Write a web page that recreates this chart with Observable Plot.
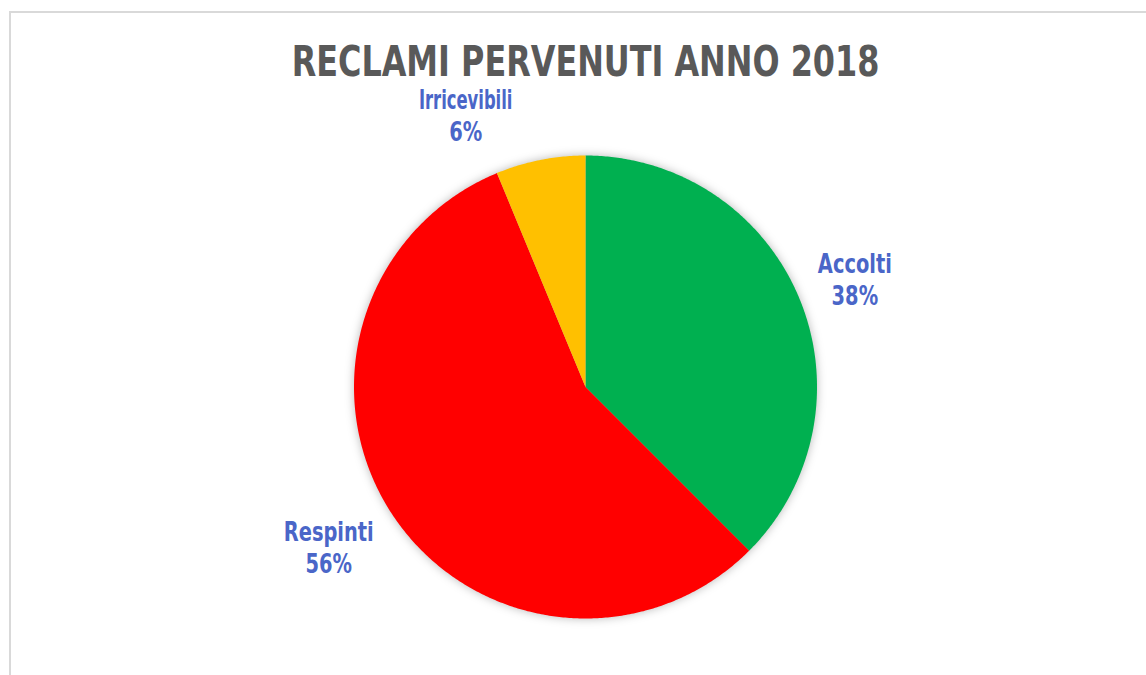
<!DOCTYPE html>
<html>
<head>
<meta charset="utf-8">
<script src="https://cdn.jsdelivr.net/npm/d3@7"></script>
<script src="https://cdn.jsdelivr.net/npm/@observablehq/plot@0.6"></script>
<style>
  html, body { margin: 0; padding: 0; background: #fff; overflow: hidden; }
  #frame { position: absolute; left: 9px; top: 11px; width: 1200px; height: 720px; border: 2px solid #d9d9d9; box-sizing: border-box; }
  #chart { position: absolute; left: 0; top: 0; }
  #chart g[aria-label="line"] { filter: drop-shadow(0px 0px 5px rgba(0,0,0,0.28)); }
</style>
</head>
<body>
<div id="frame"></div>
<div id="chart"></div>
<script>
// ---- data ----
const title = "RECLAMI PERVENUTI ANNO 2018";
const categories = ["Accolti", "Respinti", "Irricevibili"];
const counts = [6, 9, 1];
const colors = ["#00B050", "#FF0000", "#FFC000"];

// ---- derived geometry (from data) ----
const total = d3.sum(counts);
let acc = 0;
const slices = categories.map((name, i) => {
  const a0 = acc / total * 360;
  acc += counts[i];
  const a1 = acc / total * 360;
  return {name, value: counts[i], a0, a1, pct: Math.round(counts[i] / total * 100)};
});

// polygon outline of each slice, angles clockwise from 12 o'clock
const pts = [];
for (const s of slices) {
  pts.push({name: s.name, x: 0, y: 0});
  const n = Math.max(2, Math.ceil((s.a1 - s.a0) / 0.5));
  for (let k = 0; k <= n; k++) {
    const t = (s.a0 + (s.a1 - s.a0) * k / n) * Math.PI / 180;
    pts.push({name: s.name, x: Math.sin(t), y: Math.cos(t)});
  }
  pts.push({name: s.name, x: 0, y: 0});
}

// label placement (best-fit style nudges)
const labelNudge = {Accolti: {da: 0.6, r: 1.254}, Respinti: {da: 1.8, r: 1.307}, Irricevibili: {da: -12.5, r: 1.285}};
const labels = slices.map(s => {
  const nd = labelNudge[s.name];
  const t = ((s.a0 + s.a1) / 2 + nd.da) * Math.PI / 180;
  return {name: s.name, text: `${s.name}\n${s.pct}%`, x: nd.r * Math.sin(t), y: nd.r * Math.cos(t)};
});

const font = '"Liberation Sans Narrow", "DejaVu Sans Condensed", "Liberation Sans", sans-serif';

const chart = Plot.plot({
  width: 1146,
  height: 675,
  margin: 0,
  style: {background: "transparent", fontFamily: font},
  x: {domain: [-1, 1], range: [353.5, 816.5], axis: null},
  y: {domain: [-1, 1], range: [618, 155], axis: null},
  color: {domain: categories, range: colors},
  marks: [
    Plot.line(pts, {x: "x", y: "y", z: "name", fill: "name", stroke: "none", curve: "linear"}),
    Plot.text(labels, {x: "x", y: "y", text: "text", fill: "#4A66C8", fontSize: 26, fontWeight: "bold", lineHeight: 1.23, textAnchor: "middle", className: "pie-label"}),
    Plot.text([title], {frameAnchor: "top", dx: 12, dy: 45, lineAnchor: "top", fill: "#595959", fontSize: 43, fontWeight: "bold", className: "pie-title"})
  ]
});
document.getElementById("chart").appendChild(chart);

// condense text horizontally to mimic the narrow original typeface
function condense(el, factor) {
  const len = el.getComputedTextLength();
  el.setAttribute("textLength", (len * factor).toFixed(1));
  el.setAttribute("lengthAdjust", "spacingAndGlyphs");
}
chart.querySelectorAll(".pie-title text").forEach(el => condense(el, 585 / 710));
chart.querySelectorAll(".pie-label text").forEach(el => {
  el.querySelectorAll("tspan").forEach(t => {
    const narrowGlyphs = /^[Iirlb]+[a-z]*$/.test(t.textContent) && /ili$/.test(t.textContent);
    condense(t, narrowGlyphs ? 0.70 : 0.83);
  });
});
</script>
</body>
</html>
